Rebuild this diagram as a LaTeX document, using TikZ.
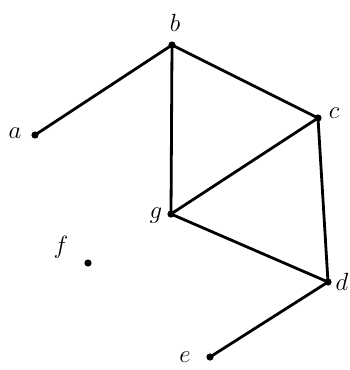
\documentclass[tikz,border=0pt]{standalone}
\usepackage{amsmath}
\usepackage{amssymb}
\usepackage{tikz}
\begin{document}
\begin{tikzpicture}[x=1pt,y=-1pt,every node/.style={inner sep=0pt,font=\fontsize{28}{32}\selectfont}]
\useasboundingbox (0,0) rectangle (350,370);
\coordinate (a) at (35,135);
\coordinate (b) at (172,45);
\coordinate (c) at (318,118);
\coordinate (d) at (328,282);
\coordinate (e) at (210,357);
\coordinate (f) at (88,263);
\coordinate (g) at (171,214);
\draw[line width=2.8pt] (a)--(b)--(c)--(d)--(e);
\draw[line width=2.8pt] (b)--(g)--(c);
\draw[line width=2.8pt] (g)--(d);
\foreach \v in {a,b,c,d,e,f,g} \fill (\v) circle (3.6pt);
\node (la) at (15,133) {$a$};
\node (lb) at (175,23) {$b$};
\node (lc) at (334,113) {$c$};
\node (ld) at (342,282) {$d$};
\node (le) at (185,357) {$e$};
\node (lf) at (61,247) {$f$};
\node (lg) at (156,216) {$g$};
\end{tikzpicture}
\end{document}
